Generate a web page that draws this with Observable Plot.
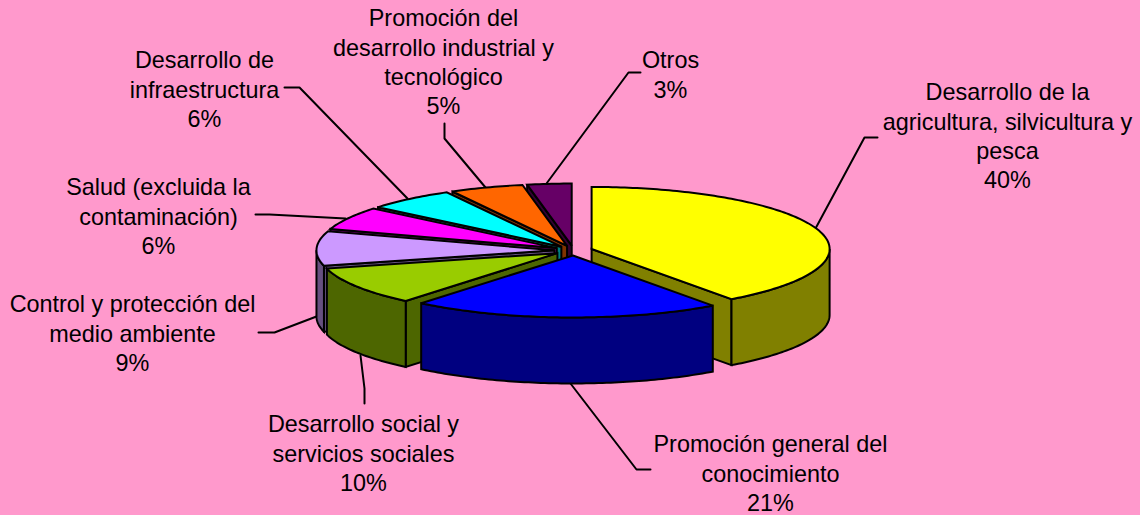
<!DOCTYPE html>
<html><head><meta charset="utf-8">
<script src="https://cdn.jsdelivr.net/npm/d3@7"></script>
<script src="https://cdn.jsdelivr.net/npm/@observablehq/plot@0.6"></script>
<style>html,body{margin:0;padding:0;background:#FF99CC;overflow:hidden}svg{display:block}</style>
</head><body><div id="chart"></div>
<script>
const categories = ["Desarrollo de la\nagricultura, silvicultura y\npesca","Promoción general del\nconocimiento","Desarrollo social y\nservicios sociales","Control y protección del\nmedio ambiente","Salud (excluida la\ncontaminación)","Desarrollo de\ninfraestructura","Promoción del\ndesarrollo industrial y\ntecnológico","Otros"];
const shares = [40,21,10,9,6,6,5,3];
const topColors = ["#FFFF00","#0000FF","#99CC00","#CC99FF","#FF00FF","#00FFFF","#FF6600","#660066"];
const wallColors = ["#808000","#000080","#4D6600","#665080","#800080","#008080","#803300","#330033"];

// layout
const W=1140,H=515,cx=573,cy=250,rx=238,ry=62,depth=66,burst=0.08;
const labelPos=[[1007,92],[770,444],[363,424],[132,304],[158,187],[204,60],[443,18],[670,60]];
const leaders=[
 [[815,228],[864,137],[877,137]],
 [[570,383],[636,469],[650,469]],
 [[360,355],[364,388],[364,403]],
 [[316,316],[274,332],[258,332]],
 [[345,218],[269,214],[255,214]],
 [[407,198],[299,87],[284,87]],
 [[485,187],[444,138],[444,123]],
 [[546,183],[628,72],[640,72]]
];
const rad=d=>d*Math.PI/180;
const slices=[];let acc=0;
shares.forEach((s,i)=>{const a0=acc*3.6,a1=(acc+s)*3.6,m=(a0+a1)/2;acc+=s;
  slices.push({i,a0,a1,ax:cx+burst*rx*Math.sin(rad(m)),ay:cy-burst*ry*Math.cos(rad(m))});});
const rim=(s,a)=>[s.ax+rx*Math.sin(rad(a)),s.ay-ry*Math.cos(rad(a))];
const arc=(s,a,b)=>{const n=Math.max(2,Math.ceil(Math.abs(b-a)));return d3.range(n+1).map(k=>rim(s,a+(b-a)*k/n));};
const down=p=>[p[0],p[1]+depth];
const poly=(pts,fill,sw=2)=>Plot.line(pts,{x:d=>d[0],y:d=>d[1],fill,stroke:"#000",strokeWidth:sw,curve:"linear-closed",strokeLinejoin:"miter",strokeMiterlimit:3});
const marks=[];
leaders.forEach(l=>marks.push(Plot.line(l,{x:d=>d[0],y:d=>d[1],stroke:"#000",strokeWidth:2,strokeLinejoin:"round"})));
const order=[7,6,5,4,3,0,2,1];
order.forEach(i=>{const s=slices[i],c=wallColors[i],A=[s.ax,s.ay];
  const visible=[];
  if(s.a0>180) visible.push(s.a0);
  if(s.a1<180) visible.push(s.a1);
  for(const a of visible){const r=rim(s,a);marks.push(poly([A,r,down(r),down(A)],c));}
  const f0=Math.max(s.a0,90),f1=Math.min(s.a1,270);
  if(f1>f0){const t=arc(s,f0,f1);marks.push(poly([...t,...t.slice().reverse().map(down)],c));}
  marks.push(poly([A,...arc(s,s.a0,s.a1)],topColors[i]));
});
const labelRows=categories.map((c,i)=>({text:c+"\n"+shares[i]+"%",x:labelPos[i][0],y:labelPos[i][1]}));
marks.push(Plot.text(labelRows,{x:"x",y:"y",text:"text",fill:"#000",textAnchor:"middle",lineAnchor:"top",lineHeight:1.255,dy:-13,fontSize:23.4}));
const chart=Plot.plot({width:W,height:H,margin:0,
  x:{domain:[0,W],range:[0,W],axis:null},y:{domain:[0,H],range:[0,H],axis:null},
  style:{background:"#FF99CC",fontFamily:"'Liberation Sans',Arial,sans-serif"},marks});
document.getElementById("chart").append(chart);
</script></body></html>
